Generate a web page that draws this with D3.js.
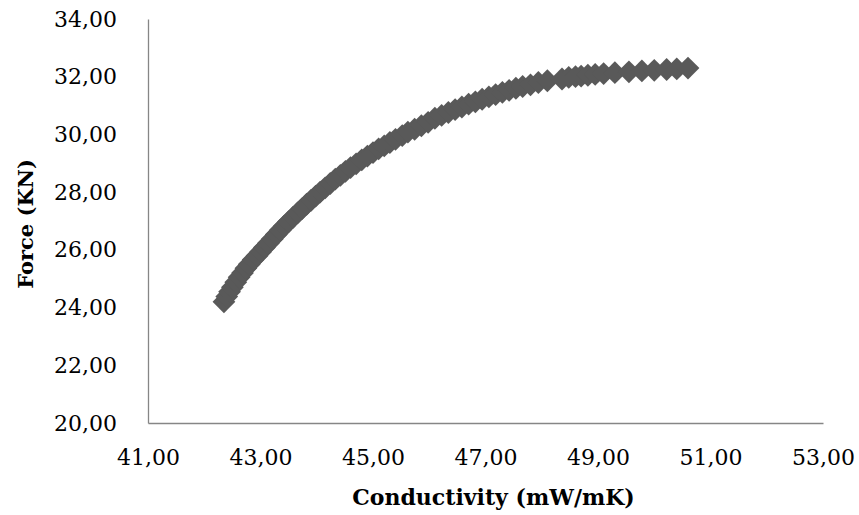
<!DOCTYPE html>
<html>
<head>
<meta charset="utf-8">
<script src="https://cdn.jsdelivr.net/npm/d3@7"></script>
<style>
  body { margin: 0; background: #fff; }
  svg { display: block; }
</style>
</head>
<body>
<div id="scatter"></div>
<script>
// Data
var conductivity = [
    42.35, 42.40, 42.45, 42.50, 42.56, 42.62, 42.68, 42.74, 42.80, 42.87,
    42.94, 43.00, 43.07, 43.14, 43.21, 43.28, 43.35, 43.42, 43.50, 43.58,
    43.66, 43.74, 43.82, 43.90, 43.98, 44.06, 44.15, 44.24, 44.33, 44.42,
    44.51, 44.60, 44.70, 44.80, 44.90, 45.00, 45.10, 45.20, 45.30, 45.40,
    45.52, 45.62, 45.74, 45.86, 45.98, 46.10, 46.22, 46.34, 46.46, 46.58,
    46.70, 46.82, 46.94, 47.06, 47.18, 47.30, 47.42, 47.54, 47.66, 47.80,
    47.94, 48.10, 48.36, 48.48, 48.60, 48.70, 48.82, 48.95, 49.10, 49.30,
    49.55, 49.78, 50.00, 50.22, 50.40, 50.60
];
var force = [
    24.20, 24.38, 24.55, 24.70, 24.88, 25.05, 25.20, 25.36, 25.50, 25.66,
    25.80, 25.93, 26.08, 26.23, 26.38, 26.53, 26.68, 26.82, 26.98, 27.13,
    27.28, 27.43, 27.58, 27.72, 27.86, 28.00, 28.15, 28.30, 28.45, 28.58,
    28.72, 28.85, 28.98, 29.12, 29.25, 29.37, 29.50, 29.60, 29.72, 29.83,
    29.96, 30.08, 30.18, 30.30, 30.42, 30.56, 30.66, 30.76, 30.86, 30.95,
    31.05, 31.13, 31.22, 31.30, 31.38, 31.46, 31.53, 31.60, 31.66, 31.72,
    31.80, 31.86, 31.92, 31.98, 32.00, 32.02, 32.05, 32.08, 32.11, 32.14,
    32.17, 32.20, 32.22, 32.25, 32.27, 32.30
];
var xTicks = [41, 43, 45, 47, 49, 51, 53];
var yTicks = [20, 22, 24, 26, 28, 30, 32, 34];

var svgWidth = 859;
var svgHeight = 515;
var margin = { top: 19, right: 36, bottom: 92, left: 148 };
var width = svgWidth - margin.left - margin.right;
var height = svgHeight - margin.top - margin.bottom;

var svg = d3.select("#scatter")
    .append("svg")
    .attr("width", svgWidth)
    .attr("height", svgHeight);

var chartGroup = svg.append("g")
    .attr("transform", `translate(${margin.left}, ${margin.top})`);

var xScale = d3.scaleLinear().domain([41, 53]).range([0, width]);
var yScale = d3.scaleLinear().domain([20, 34]).range([height, 0]);

// comma decimal format
var fmt = d => d3.format(".2f")(d).replace(".", ",");

var bottomAxis = d3.axisBottom(xScale).tickValues(xTicks).tickFormat(fmt).tickSize(0).tickPadding(26);
var leftAxis = d3.axisLeft(yScale).tickValues(yTicks).tickFormat(fmt).tickSize(0).tickPadding(31);

var xAxisG = chartGroup.append("g").attr("transform", `translate(0, ${height})`).call(bottomAxis);
var yAxisG = chartGroup.append("g").call(leftAxis);

[xAxisG, yAxisG].forEach(function(g) {
    g.select(".domain").attr("stroke", "#868686").attr("stroke-width", 1.3);
    g.selectAll("text")
        .attr("fill", "#000")
        .style("font-family", "'DejaVu Serif', serif")
        .style("font-size", "22px");
});

// markers
var points = conductivity.map((c, i) => ({ x: c, y: force[i] }));
var diamond = d3.symbol().type(d3.symbolSquare).size(260);

chartGroup.selectAll("path.marker")
    .data(points)
    .enter()
    .append("path")
    .attr("class", "marker")
    .attr("d", diamond)
    .attr("transform", d => `translate(${xScale(d.x)}, ${yScale(d.y)}) rotate(45)`)
    .attr("fill", "#595959");

// axis titles
chartGroup.append("text")
    .attr("transform", `translate(${width / 2 + 8}, ${height + 82})`)
    .style("text-anchor", "middle")
    .style("font-family", "'DejaVu Serif', serif")
    .style("font-weight", "bold")
    .style("font-size", "22px")
    .text("Conductivity (mW/mK)");

chartGroup.append("text")
    .attr("transform", "rotate(-90)")
    .attr("x", -(224 - margin.top))
    .attr("y", -(margin.left - 33))
    .style("text-anchor", "middle")
    .style("font-family", "'DejaVu Serif', serif")
    .style("font-weight", "bold")
    .style("font-size", "21px")
    .text("Force (KN)");
</script>
</body>
</html>
